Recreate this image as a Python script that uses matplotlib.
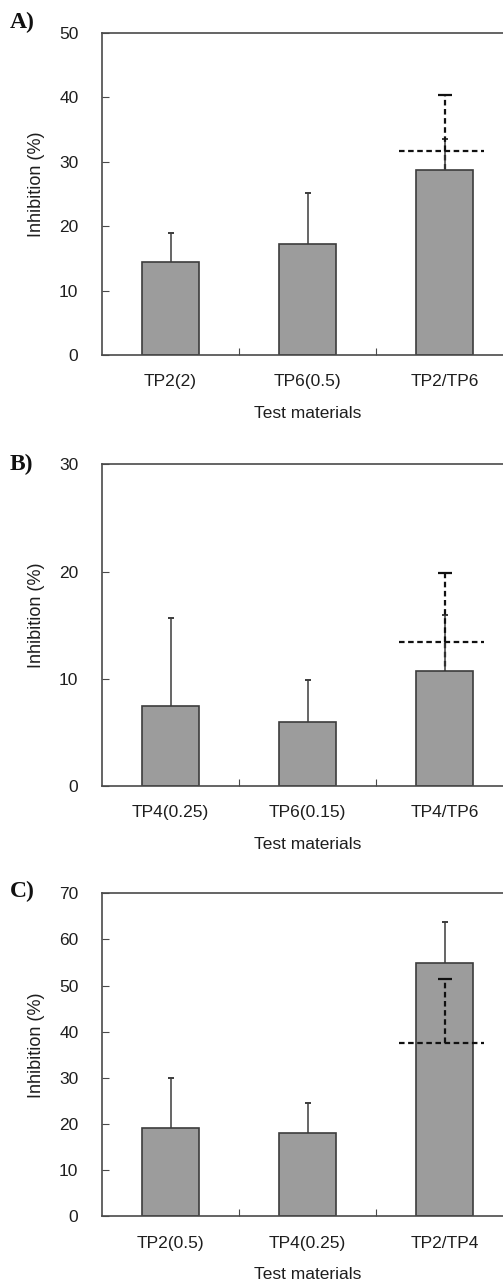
import matplotlib
matplotlib.use("Agg")
import matplotlib.pyplot as plt
import numpy as np

plt.rcParams['font.family'] = ['Liberation Sans', 'DejaVu Sans']

# ---- data ----
panel_letters = ["A)", "B)", "C)"]
cats_A = ["TP2(2)", "TP6(0.5)", "TP2/TP6"]
cats_B = ["TP4(0.25)", "TP6(0.15)", "TP4/TP6"]
cats_C = ["TP2(0.5)", "TP4(0.25)", "TP2/TP4"]
mean_A = [14.4, 17.3, 28.7]
err_A = [4.5, 7.8, 4.9]
mean_B = [7.5, 6.0, 10.7]
err_B = [8.2, 3.9, 5.2]
mean_C = [19.1, 18.0, 55.0]
err_C = [10.9, 6.6, 8.7]
# expected additive effect (dashed)
exp_A, exp_err_A = 31.7, 8.6
exp_B, exp_err_B = 13.4, 6.5
exp_C, exp_err_C = 37.6, 13.8
ymax_A, ymax_B, ymax_C = 50, 30, 70

W, H = 503, 1281
fig = plt.figure(figsize=(W / 100, H / 100), dpi=100)

panels = [
    (cats_A, mean_A, err_A, exp_A, exp_err_A, ymax_A, 33, 355, 28),
    (cats_B, mean_B, err_B, exp_B, exp_err_B, ymax_B, 464.3, 786, 470),
    (cats_C, mean_C, err_C, exp_C, exp_err_C, ymax_C, 893.3, 1216.3, 896.7),
]

left_px, right_px = 102, 513
spine_col = "#4a4a4a"
txt_col = "#1e1e1e"
dash = (0, (2.5, 1.6))

for i, (cats, means, errs, ex, exerr, ymax, top, bot, lettery) in enumerate(panels):
    ax = fig.add_axes([left_px / W, 1 - bot / H, (right_px - left_px) / W, (bot - top) / H])
    x = np.arange(len(cats))
    # dashed expected error bar lower half (behind bars)
    eb0 = ax.errorbar([x[-1]], [ex], yerr=[[exerr], [0]], fmt='none', ecolor='#111111',
                      elinewidth=1.6, zorder=1)
    for lc in eb0[2]:
        lc.set_linestyle(dash)
    ax.bar(x, means, width=0.41, color="#9c9c9c", edgecolor="#3c3c3c", linewidth=1.2, zorder=2)
    eb1 = ax.errorbar(x, means, yerr=[np.zeros(len(errs)), errs], fmt='none', ecolor='#3c3c3c',
                      elinewidth=1.1, capsize=2.0, capthick=1.4, zorder=3)
    eb1[1][0].set_visible(False)
    # dashed upper error bar and horizontal expected line on top
    eb = ax.errorbar([x[-1]], [ex], yerr=[[0], [exerr]], fmt='none', ecolor='#111111',
                     elinewidth=1.6, capsize=4.8, capthick=1.6, zorder=4)
    eb[1][0].set_visible(False)
    for lc in eb[2]:
        lc.set_linestyle(dash)
    ax.hlines(ex, x[-1] - 0.33, x[-1] + 0.29, colors='#111111', linewidth=1.6,
              linestyles=dash, zorder=4)

    ax.set_xlim(-0.5, 2.5)
    ax.set_ylim(0, ymax)
    ax.set_yticks(np.arange(0, ymax + 1, 10))
    ax.set_xticks(x)
    ax.set_xticklabels(cats)
    ax.set_xticks([0.5, 1.5], minor=True)
    ax.tick_params(axis='x', which='major', length=0, pad=14, labelsize=12.5, labelcolor=txt_col)
    ax.tick_params(axis='x', which='minor', direction='in', length=5, width=0.8, color=spine_col)
    ax.tick_params(axis='y', direction='in', length=5, width=0.8, color=spine_col,
                   pad=17, labelsize=12.5, labelcolor=txt_col)
    for s in ['left', 'top', 'bottom']:
        ax.spines[s].set_color(spine_col)
        ax.spines[s].set_linewidth(1.2)
    ax.spines['right'].set_visible(False)
    ax.set_xlabel("Test materials", fontsize=12.5, color=txt_col, labelpad=12)
    ax.set_ylabel("Inhibition (%)", fontsize=13, color=txt_col)
    ax.yaxis.set_label_coords((45 - left_px) / (right_px - left_px), 0.53)
    fig.text(10 / W, 1 - lettery / H, panel_letters[i], fontsize=17, fontweight='bold',
             family=['Liberation Serif', 'DejaVu Serif'], va='baseline', ha='left', color='#111111')

fig.savefig("out.png", dpi=100, facecolor='white')
